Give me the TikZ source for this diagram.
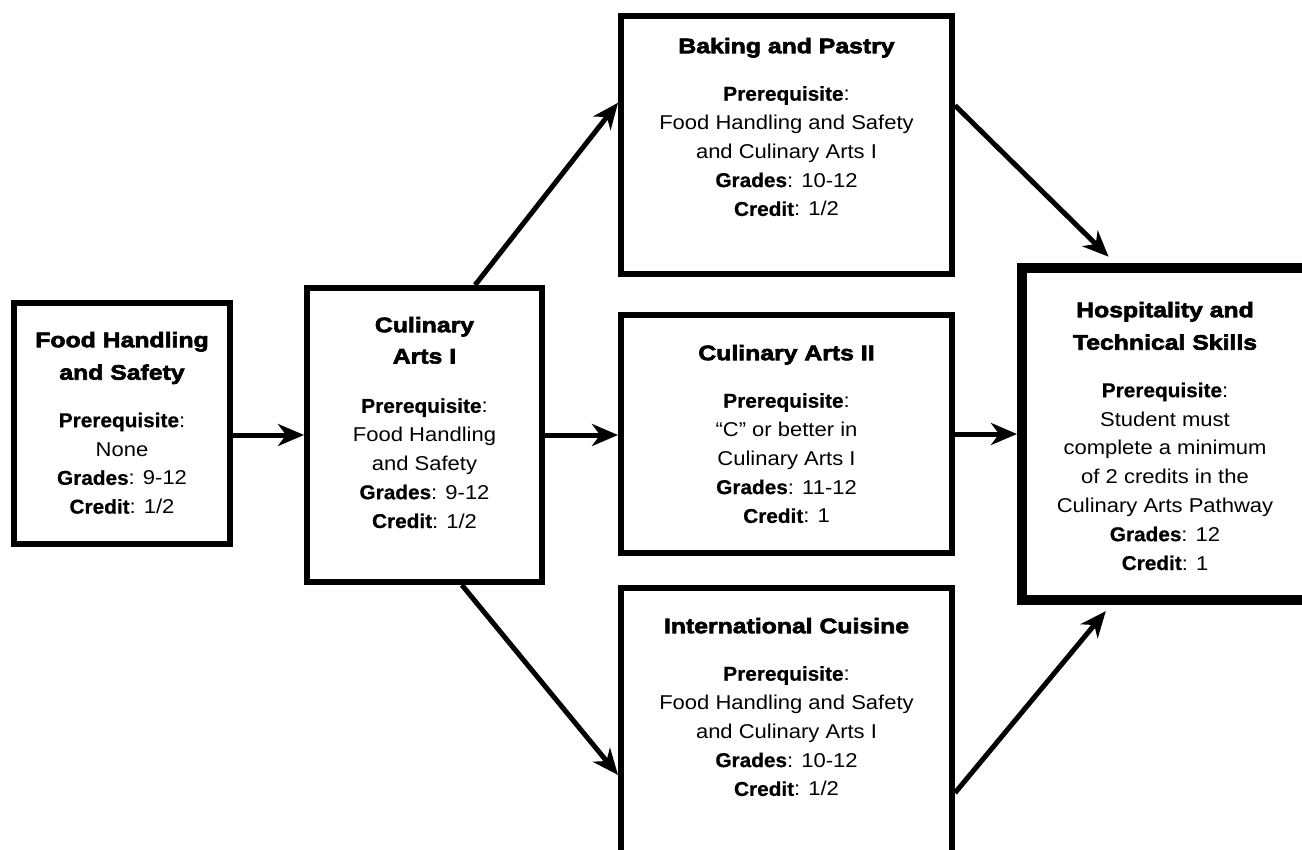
\documentclass[tikz,border=0pt]{standalone}
\usepackage{fontspec}
\setmainfont{Liberation Sans}[FakeStretch=1.1]
\newfontfamily\headfont{Liberation Sans Bold}[FakeStretch=1.18,FakeBold=3]
\newfontfamily\lblfont{Liberation Sans Bold}[FakeStretch=1.04,FakeBold=0.6]
\usetikzlibrary{arrows.meta,calc}
\newcommand\hd[1]{{\headfont\fontsize{21}{28.8}\selectfont #1}}
\newcommand\lb[1]{{\lblfont #1}}
\newcommand\fstrut{\rule{0pt}{18pt}}
\tikzset{
  box/.style={draw, line width=6pt, rectangle, inner sep=0pt},
  bigbox/.style={draw, line width=10pt, rectangle, inner sep=0pt},
  txt/.style={align=center, inner sep=0pt, anchor=north, font=\fontsize{20}{28.8}\selectfont},
  arr/.style={line width=5pt, -{Stealth[length=26pt,width=22pt,inset=8pt]}}
}
\begin{document}
\begin{tikzpicture}[x=1pt,y=-1pt]
\useasboundingbox (0,0) rectangle (1302,850);
\clip (0,0) rectangle (1302,850);
\fill[white] (0,0) rectangle (1302,850);
% boxes
\node[box, minimum width=216pt, minimum height=241pt] (food) at (122,423.5) {};
\node[box, minimum width=235pt, minimum height=294pt] (ca1) at (424.5,435) {};
\node[box, minimum width=331pt, minimum height=258pt] (bake) at (786.5,145) {};
\node[box, minimum width=331pt, minimum height=238pt] (ca2) at (786.5,434) {};
\node[box, minimum width=331pt, minimum height=309pt] (intl) at (786.5,742.5) {};
\node[bigbox, minimum width=303pt, minimum height=332pt] (hosp) at (1173.5,434) {};
% texts
\node[txt] (foodt) at (122,329) {\fstrut\hd{Food Handling}\\[3.7pt]\hd{and Safety}\\[18.7pt]\lb{Prerequisite}:\\None\\\lb{Grades}: 9-12\\\lb{Credit}: 1/2};
\node[txt] (ca1t) at (424.5,314) {\fstrut\hd{Culinary}\\[2.5pt]\hd{Arts I}\\[20.5pt]\lb{Prerequisite}:\\Food Handling\\and Safety\\\lb{Grades}: 9-12\\\lb{Credit}: 1/2};
\node[txt] (baket) at (786.5,35) {\fstrut\hd{Baking and Pastry}\\[18.7pt]\lb{Prerequisite}:\\Food Handling and Safety\\and Culinary Arts I\\\lb{Grades}: 10-12\\\lb{Credit}: 1/2};
\node[txt] (ca2t) at (786.5,342) {\fstrut\hd{Culinary Arts II}\\[18.7pt]\lb{Prerequisite}:\\“C” or better in\\Culinary Arts I\\\lb{Grades}: 11-12\\\lb{Credit}: 1};
\node[txt] (intlt) at (786.5,615) {\fstrut\hd{International Cuisine}\\[18.7pt]\lb{Prerequisite}:\\Food Handling and Safety\\and Culinary Arts I\\\lb{Grades}: 10-12\\\lb{Credit}: 1/2};
\node[txt] (hospt) at (1165,299) {\fstrut\hd{Hospitality and}\\[3.7pt]\hd{Technical Skills}\\[18.7pt]\lb{Prerequisite}:\\Student must\\complete a minimum\\of 2 credits in the\\Culinary Arts Pathway\\\lb{Grades}: 12\\\lb{Credit}: 1};
% connectors
\draw[arr] (food.east |- ca1.west) -- (ca1.west);
\draw[arr] (ca1.east) -- (ca2.west |- ca1.east);
\draw[arr] (ca2.east) -- (hosp.west |- ca2.east);
\draw[arr] ($(ca1.north west)!0.71!(ca1.north east)$) -- ($(bake.north west)!0.34!(bake.south west)$);
\draw[arr] ($(ca1.south west)!0.655!(ca1.south east)$) -- ($(intl.north west)!0.603!(intl.south west)$);
\draw[arr, shorten >=9pt] ($(bake.north east)!0.35!(bake.south east)$) -- ($(hosp.north west)!0.313!(hosp.north east)$);
\draw[arr, shorten >=8pt] ($(intl.north east)!0.66!(intl.south east)$) -- ($(hosp.south west)!0.30!(hosp.south east)$);
\end{tikzpicture}
\end{document}
